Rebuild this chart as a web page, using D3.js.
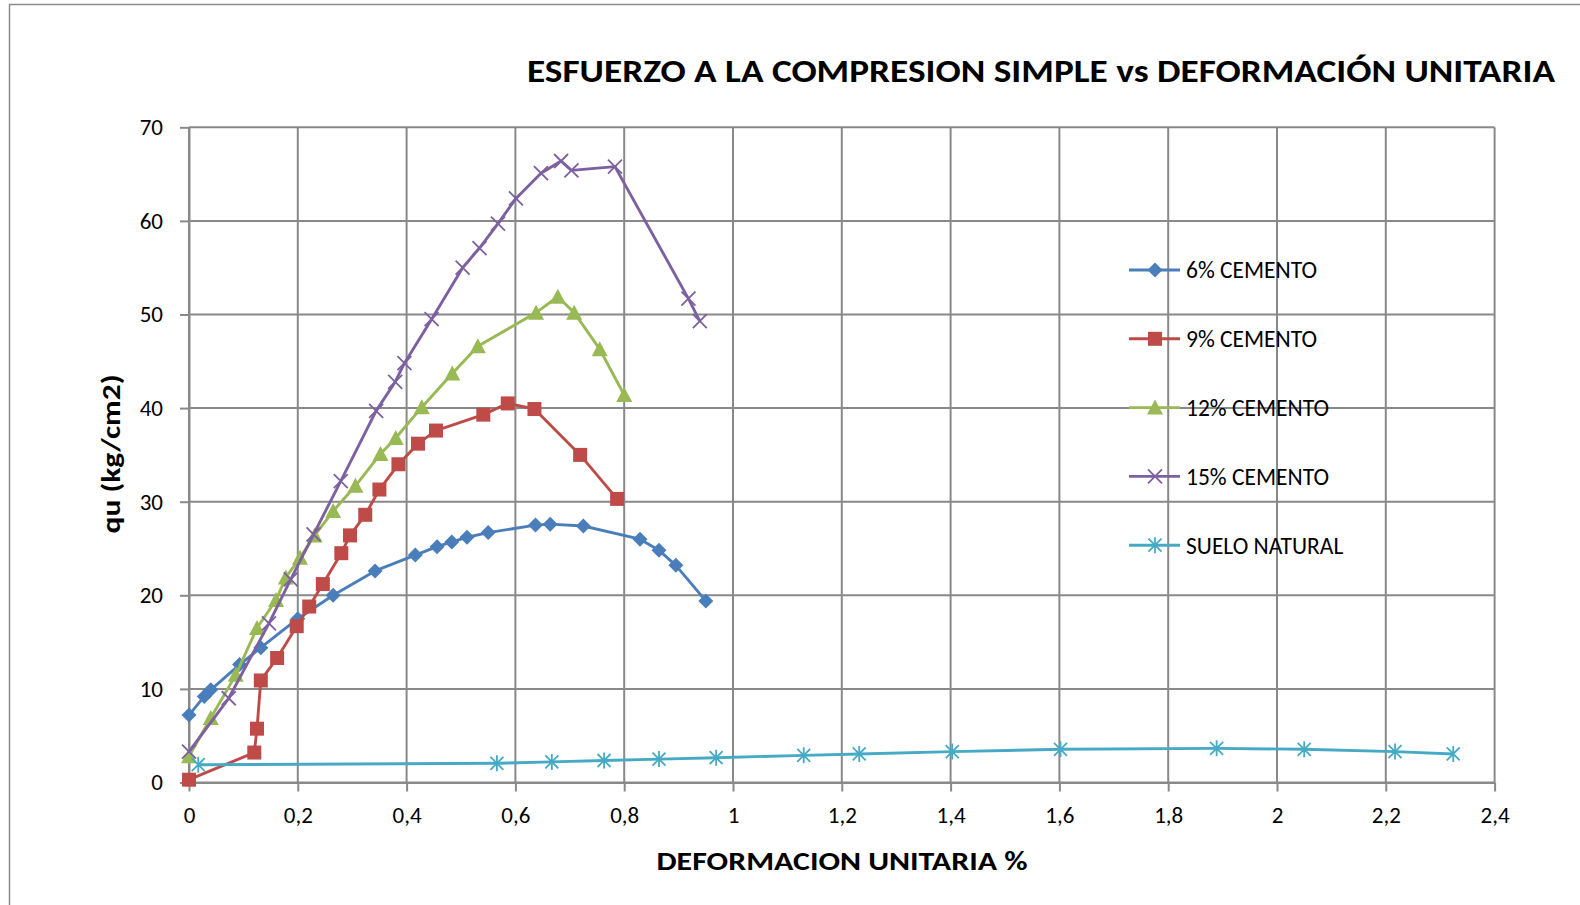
<!DOCTYPE html>
<html>
<head>
<meta charset="utf-8">
<script src="https://cdn.jsdelivr.net/npm/d3@7"></script>
<style>
  body { margin: 0; background: #ffffff; }
  svg { display: block; }
  text { font-family: "Carlito", "Calibri", "Lato", "Open Sans", sans-serif; fill: #000; }
</style>
</head>
<body>
<svg id="chart" width="1580" height="905"></svg>
<script>
// Axis tick values
const xTicks = [0, 0.2, 0.4, 0.6, 0.8, 1, 1.2, 1.4, 1.6, 1.8, 2, 2.2, 2.4];
const yTicks = [0, 10, 20, 30, 40, 50, 60, 70];

// Deformación unitaria (%) and qu (kg/cm2) for each mix
const def6 = [0, 0.028, 0.040, 0.093, 0.132, 0.200, 0.265, 0.342, 0.416, 0.456, 0.483, 0.511, 0.550, 0.637, 0.664, 0.725, 0.829, 0.864, 0.895, 0.950];
const qu6  = [7.2, 9.2, 9.9, 12.6, 14.4, 17.5, 20.0, 22.6, 24.3, 25.2, 25.7, 26.2, 26.7, 27.5, 27.6, 27.4, 26.0, 24.8, 23.2, 19.4];

const def9 = [0, 0.120, 0.125, 0.132, 0.162, 0.198, 0.221, 0.246, 0.280, 0.296, 0.324, 0.350, 0.385, 0.421, 0.454, 0.541, 0.586, 0.635, 0.719, 0.787];
const qu9  = [0.3, 3.2, 5.75, 10.9, 13.3, 16.7, 18.8, 21.2, 24.5, 26.4, 28.6, 31.3, 34.0, 36.2, 37.6, 39.3, 40.5, 39.9, 35.0, 30.3];

const def12 = [0, 0.040, 0.086, 0.125, 0.160, 0.178, 0.204, 0.231, 0.265, 0.306, 0.352, 0.380, 0.428, 0.484, 0.531, 0.638, 0.678, 0.708, 0.755, 0.800];
const qu12  = [2.8, 6.9, 11.5, 16.5, 19.5, 21.9, 24.0, 26.4, 29.0, 31.7, 35.1, 36.8, 40.1, 43.7, 46.6, 50.2, 51.9, 50.2, 46.3, 41.4];

const def15 = [0, 0.073, 0.147, 0.187, 0.229, 0.279, 0.344, 0.379, 0.396, 0.446, 0.503, 0.534, 0.568, 0.601, 0.647, 0.684, 0.703, 0.783, 0.918, 0.939];
const qu15  = [3.3, 9.0, 17.0, 21.7, 26.5, 32.2, 39.7, 42.8, 44.8, 49.5, 55.0, 57.1, 59.7, 62.4, 65.1, 66.4, 65.4, 65.8, 51.7, 49.3];

const defSN = [0.017, 0.566, 0.667, 0.763, 0.864, 0.969, 1.130, 1.232, 1.403, 1.602, 1.889, 2.050, 2.217, 2.324];
const quSN  = [1.9, 2.05, 2.2, 2.35, 2.5, 2.65, 2.9, 3.05, 3.3, 3.55, 3.65, 3.55, 3.3, 3.05];

const seriesNames  = ["6% CEMENTO", "9% CEMENTO", "12% CEMENTO", "15% CEMENTO", "SUELO NATURAL"];
const seriesColors = ["#4a7ebb", "#be4b48", "#98b954", "#7d60a0", "#46aac5"];
const seriesMarkers = ["diamond", "square", "triangle", "x", "star"];
const seriesX = [def6, def9, def12, def15, defSN];
const seriesY = [qu6, qu9, qu12, qu15, quSN];

const titleText = "ESFUERZO A LA COMPRESION SIMPLE vs DEFORMACIÓN UNITARIA";
const xTitle = "DEFORMACION UNITARIA %";
const yTitle = "qu (kg/cm2)";

const series = seriesNames.map((name, i) => ({
  name,
  color: seriesColors[i],
  marker: seriesMarkers[i],
  points: seriesX[i].map((d, j) => ({ x: d, y: seriesY[i][j] }))
}));

const svg = d3.select("#chart");
const gridColor = "#898989";
const fontStack = '"Carlito","Calibri","Lato","Open Sans",sans-serif';

// outer chart frame
svg.append("rect")
  .attr("x", 9.5).attr("y", 4.5)
  .attr("width", 1620).attr("height", 1000)
  .attr("fill", "none").attr("stroke", "#8c8c8c").attr("stroke-width", 1.5);

const x = d3.scaleLinear().domain([0, 2.4]).range([189, 1494.6]);
const y = d3.scaleLinear().domain([0, 70]).range([782.5, 127.3]);
const fmt = d => String(d).replace(".", ",");

// gridlines
const grid = svg.append("g").attr("stroke", gridColor).attr("stroke-width", 2);
grid.selectAll("line.v").data(xTicks).join("line")
  .attr("x1", d => x(d)).attr("x2", d => x(d))
  .attr("y1", y(0)).attr("y2", y(70));
grid.selectAll("line.h").data(yTicks).join("line")
  .attr("x1", x(0)).attr("x2", x(2.4))
  .attr("y1", d => y(d)).attr("y2", d => y(d));

// axes
const xAxis = svg.append("g")
  .attr("transform", `translate(0,${y(0)})`)
  .call(d3.axisBottom(x).tickValues(xTicks).tickFormat(fmt).tickSizeInner(9).tickSizeOuter(0).tickPadding(15));
const yAxis = svg.append("g")
  .attr("transform", `translate(${x(0)},0)`)
  .call(d3.axisLeft(y).tickValues(yTicks).tickSizeInner(9).tickSizeOuter(0).tickPadding(17));
[xAxis, yAxis].forEach(a => {
  a.selectAll("path.domain").attr("stroke", gridColor).attr("stroke-width", 2);
  a.selectAll(".tick line").attr("stroke", gridColor).attr("stroke-width", 2);
  a.selectAll(".tick text")
    .style("font-family", fontStack)
    .style("font-size", "23px").attr("fill", "#000");
});

// marker shapes
function drawMarker(g, type, color, cx, cy) {
  if (type === "diamond") {
    g.append("path").attr("d", `M${cx},${cy-7.5}L${cx+7.5},${cy}L${cx},${cy+7.5}L${cx-7.5},${cy}Z`)
      .attr("fill", color);
  } else if (type === "square") {
    g.append("rect").attr("x", cx - 7).attr("y", cy - 7).attr("width", 14).attr("height", 14)
      .attr("fill", color);
  } else if (type === "triangle") {
    g.append("path").attr("d", `M${cx},${cy-8}L${cx+8},${cy+7}L${cx-8},${cy+7}Z`)
      .attr("fill", color);
  } else if (type === "x") {
    g.append("path").attr("d", `M${cx-7},${cy-7}L${cx+7},${cy+7}M${cx-7},${cy+7}L${cx+7},${cy-7}`)
      .attr("stroke", color).attr("stroke-width", 1.8).attr("fill", "none");
  } else if (type === "star") {
    g.append("path").attr("d", `M${cx-6.5},${cy-6.5}L${cx+6.5},${cy+6.5}M${cx-6.5},${cy+6.5}L${cx+6.5},${cy-6.5}M${cx},${cy-8}L${cx},${cy+8}`)
      .attr("stroke", color).attr("stroke-width", 1.8).attr("fill", "none");
  }
}

// series lines and markers
const line = d3.line().x(d => x(d.x)).y(d => y(d.y));
series.forEach(s => {
  const g = svg.append("g");
  g.append("path").datum(s.points)
    .attr("d", line).attr("fill", "none")
    .attr("stroke", s.color).attr("stroke-width", 2.9).attr("stroke-linejoin", "round");
  s.points.forEach(p => drawMarker(g, s.marker, s.color, x(p.x), y(p.y)));
});

// legend
const legend = svg.append("g");
const legendTop = 270, legendStep = 68.8;
series.forEach((s, i) => {
  const ly = legendTop + i * legendStep;
  legend.append("line").attr("x1", 1129).attr("x2", 1180).attr("y1", ly).attr("y2", ly)
    .attr("stroke", s.color).attr("stroke-width", 2.9);
  drawMarker(legend, s.marker, s.color, 1155, ly);
  legend.append("text").attr("x", 1186).attr("y", ly).attr("dy", "0.36em")
    .style("font-size", "23.5px").text(s.name);
});

// titles
svg.append("text").attr("x", 1041).attr("y", 82)
  .attr("text-anchor", "middle").style("font-size", "33px").style("font-weight", "bold")
  .attr("textLength", 1028).attr("lengthAdjust", "spacingAndGlyphs")
  .text(titleText);
svg.append("text").attr("x", 842).attr("y", 870)
  .attr("text-anchor", "middle").style("font-size", "26px").style("font-weight", "bold")
  .attr("textLength", 371).attr("lengthAdjust", "spacingAndGlyphs")
  .text(xTitle);
svg.append("text")
  .attr("transform", "translate(120,454) rotate(-90)")
  .attr("text-anchor", "middle").style("font-size", "26px").style("font-weight", "bold")
  .attr("textLength", 159).attr("lengthAdjust", "spacingAndGlyphs")
  .text(yTitle);
</script>
</body>
</html>
